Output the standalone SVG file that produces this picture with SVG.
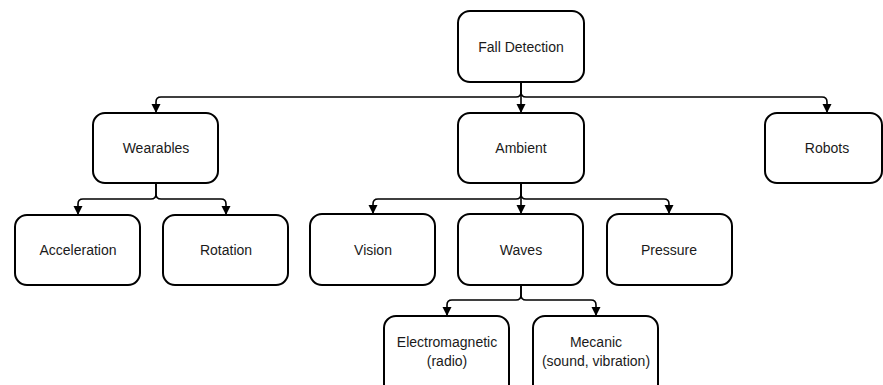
<svg xmlns="http://www.w3.org/2000/svg" width="883" height="385" viewBox="0 0 883 385">
<style>
.box{fill:#fff;stroke:#000;stroke-width:2}
.lbl{font-family:"Liberation Sans",Arial,sans-serif;font-size:14px;fill:#1a1a1a;text-anchor:middle;dominant-baseline:central}
.c{fill:none;stroke:#000;stroke-width:1.6;marker-end:url(#ah)}
</style>
<defs>
<marker id="ah" markerUnits="userSpaceOnUse" markerWidth="9" markerHeight="10" refX="9" refY="5" orient="auto">
<path d="M0,0.5 L9,5 L0,9.5 z" fill="#000"/>
</marker>
</defs>
<rect width="883" height="385" fill="#fff"/>
<g id="connectors">
<path class="c" d="M521 82 V92 Q521 97 516 97 H161 Q156 97 156 102 V113"/>
<path class="c" d="M521 82 V113"/>
<path class="c" d="M521 82 V92 Q521 97 526 97 H822 Q827 97 827 102 V113"/>
<path class="c" d="M156 183 V194 Q156 199 151 199 H83 Q78 199 78 204 V215"/>
<path class="c" d="M156 183 V194 Q156 199 161 199 H221 Q226 199 226 204 V215"/>
<path class="c" d="M521 183 V194 Q521 199 516 199 H378 Q373 199 373 204 V214"/>
<path class="c" d="M521 183 V214"/>
<path class="c" d="M521 183 V194 Q521 199 526 199 H664 Q669 199 669 204 V214"/>
<path class="c" d="M521 285 V295 Q521 300 516 300 H452 Q447 300 447 305 V316"/>
<path class="c" d="M521 285 V295 Q521 300 526 300 H591 Q596 300 596 305 V316"/>
</g>
<g id="fall-detection"><rect class="box" x="458" y="11" width="126" height="71" rx="12"/><text class="lbl" x="521" y="46.5">Fall Detection</text></g>
<g id="wearables"><rect class="box" x="93" y="113" width="125" height="70" rx="12"/><text class="lbl" x="156" y="148">Wearables</text></g>
<g id="ambient"><rect class="box" x="458" y="113" width="126" height="70" rx="12"/><text class="lbl" x="521" y="148">Ambient</text></g>
<g id="robots"><rect class="box" x="765" y="113" width="117" height="70" rx="12"/><text class="lbl" x="827" y="148">Robots</text></g>
<g id="acceleration"><rect class="box" x="15" y="215" width="125" height="70" rx="12"/><text class="lbl" x="78" y="250">Acceleration</text></g>
<g id="rotation"><rect class="box" x="163" y="215" width="125" height="70" rx="12"/><text class="lbl" x="226" y="250">Rotation</text></g>
<g id="vision"><rect class="box" x="310" y="214" width="125" height="71" rx="12"/><text class="lbl" x="373" y="250">Vision</text></g>
<g id="waves"><rect class="box" x="458" y="214" width="125" height="71" rx="12"/><text class="lbl" x="521" y="250">Waves</text></g>
<g id="pressure"><rect class="box" x="607" y="214" width="125" height="71" rx="12"/><text class="lbl" x="669" y="250">Pressure</text></g>
<g id="electromagnetic"><rect class="box" x="384" y="316" width="125" height="80" rx="12"/><text class="lbl" x="447" y="342">Electromagnetic</text><text class="lbl" x="447" y="361">(radio)</text></g>
<g id="mecanic"><rect class="box" x="533" y="316" width="125" height="80" rx="12"/><text class="lbl" x="596" y="342">Mecanic</text><text class="lbl" x="596" y="361">(sound, vibration)</text></g>
</svg>
